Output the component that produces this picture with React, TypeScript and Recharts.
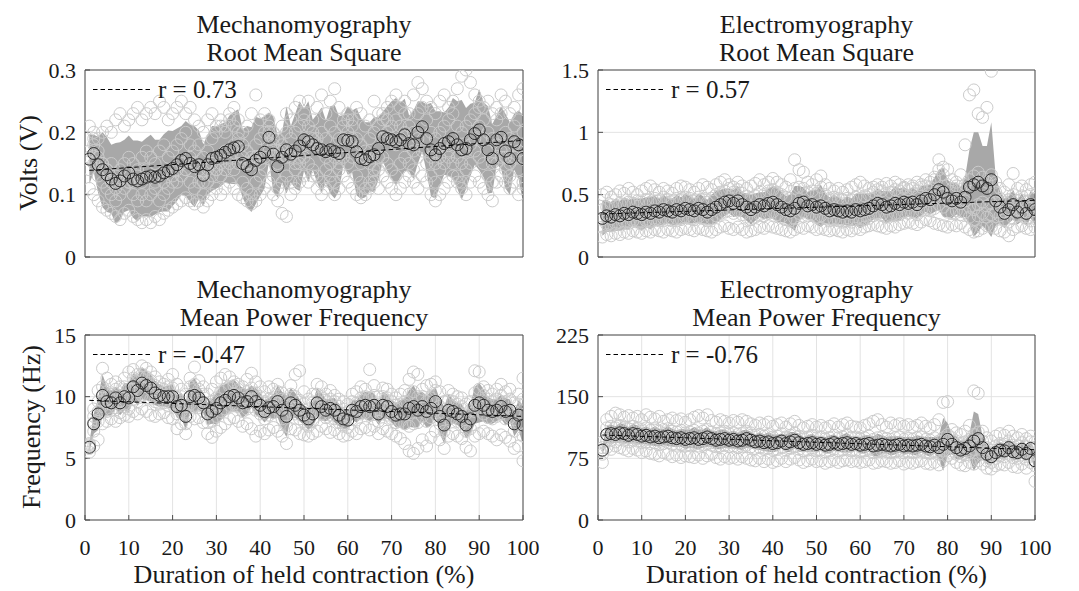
import React from "react";
import { ComposedChart, Area, Scatter, XAxis, YAxis, CartesianGrid } from "recharts";

// duration of held contraction (%), one sample per percent
const durationPct = [
  1, 2, 3, 4, 5, 6, 7, 8, 9, 10, 11, 12, 13, 14, 15, 16, 17, 18, 19, 20,
  21, 22, 23, 24, 25, 26, 27, 28, 29, 30, 31, 32, 33, 34, 35, 36, 37, 38, 39, 40,
  41, 42, 43, 44, 45, 46, 47, 48, 49, 50, 51, 52, 53, 54, 55, 56, 57, 58, 59, 60,
  61, 62, 63, 64, 65, 66, 67, 68, 69, 70, 71, 72, 73, 74, 75, 76, 77, 78, 79, 80,
  81, 82, 83, 84, 85, 86, 87, 88, 89, 90, 91, 92, 93, 94, 95, 96, 97, 98, 99, 100,
];
const xTicks = [0, 10, 20, 30, 40, 50, 60, 70, 80, 90, 100];
const fitX = [1, 100];

// ---- Mechanomyography RMS (V)
const mmgRmsTicks = [0, 0.1, 0.2, 0.3];
const mmgRmsFit = [0.139, 0.187];
const mmgRmsMean = [
  0.157, 0.166, 0.148, 0.14, 0.132, 0.125, 0.118, 0.122, 0.13, 0.135,
  0.125, 0.122, 0.125, 0.128, 0.13, 0.128, 0.13, 0.135, 0.138, 0.142,
  0.148, 0.155, 0.158, 0.15, 0.145, 0.148, 0.131, 0.148, 0.158, 0.16,
  0.163, 0.168, 0.172, 0.175, 0.177, 0.15, 0.145, 0.14, 0.155, 0.16,
  0.168, 0.192, 0.165, 0.145, 0.16, 0.172, 0.165, 0.17, 0.178, 0.188,
  0.185, 0.18, 0.174, 0.172, 0.169, 0.172, 0.169, 0.166, 0.188, 0.187,
  0.185, 0.169, 0.158, 0.156, 0.161, 0.164, 0.174, 0.193, 0.19, 0.188,
  0.185, 0.188, 0.196, 0.182, 0.18, 0.2, 0.209, 0.19, 0.172, 0.164,
  0.174, 0.182, 0.185, 0.19, 0.18, 0.172, 0.174, 0.188, 0.198, 0.204,
  0.188, 0.172, 0.158, 0.188, 0.192, 0.17, 0.158, 0.185, 0.18, 0.158,
];
const mmgRmsSd = [
  0.04, 0.03, 0.045, 0.06, 0.06, 0.055, 0.065, 0.062, 0.058, 0.06,
  0.062, 0.065, 0.06, 0.063, 0.066, 0.06, 0.058, 0.062, 0.065, 0.06,
  0.058, 0.055, 0.06, 0.062, 0.065, 0.055, 0.05, 0.048, 0.052, 0.05,
  0.05, 0.048, 0.055, 0.058, 0.06, 0.055, 0.065, 0.068, 0.07, 0.062,
  0.058, 0.04, 0.06, 0.05, 0.04, 0.07, 0.045, 0.06, 0.072, 0.05,
  0.065, 0.04, 0.055, 0.068, 0.05, 0.07, 0.075, 0.06, 0.04, 0.055,
  0.05, 0.07, 0.065, 0.06, 0.055, 0.06, 0.05, 0.04, 0.052, 0.062,
  0.07, 0.06, 0.058, 0.045, 0.055, 0.05, 0.04, 0.055, 0.075, 0.07,
  0.06, 0.05, 0.055, 0.065, 0.07, 0.08, 0.065, 0.058, 0.05, 0.065,
  0.06, 0.07, 0.055, 0.04, 0.05, 0.06, 0.058, 0.045, 0.055, 0.07,
];
const mmgRmsS1 = [
  0.21, 0.2, 0.19, 0.2, 0.21, 0.2, 0.22, 0.23, 0.21, 0.22,
  0.23, 0.24, 0.22, 0.23, 0.24, 0.23, 0.25, 0.24, 0.22, 0.23,
  0.24, 0.25, 0.23, 0.24, 0.22, 0.21, 0.2, 0.22, 0.23, 0.21,
  0.22, 0.21, 0.23, 0.24, 0.22, 0.2, 0.21, 0.23, 0.26, 0.22,
  0.23, 0.21, 0.2, 0.19, 0.21, 0.23, 0.22, 0.24, 0.25, 0.23,
  0.25, 0.22, 0.24, 0.26, 0.23, 0.25, 0.27, 0.24, 0.22, 0.23,
  0.22, 0.24, 0.23, 0.21, 0.22, 0.25, 0.23, 0.22, 0.24, 0.25,
  0.26, 0.24, 0.25, 0.23, 0.26, 0.28, 0.27, 0.25, 0.24, 0.23,
  0.25, 0.26, 0.24, 0.25, 0.27, 0.29, 0.3, 0.28, 0.26, 0.25,
  0.24, 0.25, 0.23, 0.24, 0.26, 0.25, 0.23, 0.24, 0.26, 0.27,
];
const mmgRmsS2 = [
  0.11, 0.1, 0.09, 0.08, 0.075, 0.07, 0.065, 0.06, 0.07, 0.075,
  0.065, 0.06, 0.055, 0.06, 0.055, 0.065, 0.06, 0.07, 0.075, 0.08,
  0.085, 0.09, 0.095, 0.09, 0.085, 0.09, 0.08, 0.09, 0.1, 0.11,
  0.1, 0.11, 0.12, 0.11, 0.1, 0.095, 0.09, 0.085, 0.09, 0.1,
  0.11, 0.12, 0.1, 0.09, 0.07, 0.065, 0.1, 0.11, 0.12, 0.13,
  0.12, 0.13, 0.11, 0.1, 0.11, 0.12, 0.1, 0.11, 0.13, 0.12,
  0.11, 0.1, 0.095, 0.1, 0.11, 0.12, 0.11, 0.13, 0.12, 0.11,
  0.1, 0.11, 0.12, 0.13, 0.12, 0.11, 0.13, 0.12, 0.1, 0.09,
  0.1, 0.11, 0.12, 0.13, 0.12, 0.11, 0.1, 0.12, 0.13, 0.12,
  0.11, 0.1, 0.09, 0.12, 0.13, 0.12, 0.11, 0.12, 0.1, 0.11,
];
const mmgRmsS3 = [
  0.17, 0.19, 0.16, 0.15, 0.14, 0.15, 0.13, 0.14, 0.15, 0.16,
  0.15, 0.14, 0.16, 0.17, 0.16, 0.15, 0.17, 0.18, 0.16, 0.17,
  0.18, 0.19, 0.2, 0.18, 0.17, 0.18, 0.16, 0.17, 0.19, 0.2,
  0.21, 0.2, 0.22, 0.21, 0.2, 0.18, 0.17, 0.16, 0.18, 0.19,
  0.2, 0.22, 0.19, 0.17, 0.18, 0.2, 0.19, 0.2, 0.21, 0.22,
  0.21, 0.2, 0.19, 0.2, 0.19, 0.21, 0.2, 0.19, 0.21, 0.22,
  0.21, 0.19, 0.18, 0.17, 0.19, 0.2, 0.21, 0.23, 0.22, 0.21,
  0.22, 0.21, 0.23, 0.21, 0.2, 0.23, 0.24, 0.22, 0.2, 0.19,
  0.2, 0.21, 0.22, 0.23, 0.21, 0.2, 0.21, 0.22, 0.23, 0.24,
  0.22, 0.2, 0.19, 0.22, 0.23, 0.2, 0.19, 0.21, 0.22, 0.2,
];
const mmgRmsS4 = [
  0.14, 0.15, 0.13, 0.12, 0.11, 0.1, 0.09, 0.1, 0.11, 0.12,
  0.1, 0.09, 0.1, 0.09, 0.1, 0.11, 0.09, 0.1, 0.11, 0.12,
  0.12, 0.13, 0.14, 0.12, 0.11, 0.12, 0.1, 0.12, 0.13, 0.14,
  0.13, 0.14, 0.15, 0.14, 0.15, 0.12, 0.11, 0.1, 0.12, 0.13,
  0.14, 0.17, 0.13, 0.11, 0.12, 0.13, 0.12, 0.14, 0.15, 0.16,
  0.15, 0.14, 0.13, 0.12, 0.14, 0.13, 0.12, 0.14, 0.16, 0.15,
  0.16, 0.13, 0.12, 0.11, 0.12, 0.13, 0.14, 0.16, 0.15, 0.14,
  0.13, 0.15, 0.16, 0.15, 0.14, 0.16, 0.17, 0.15, 0.13, 0.12,
  0.14, 0.15, 0.16, 0.15, 0.13, 0.12, 0.14, 0.15, 0.17, 0.16,
  0.15, 0.13, 0.12, 0.15, 0.16, 0.14, 0.13, 0.16, 0.14, 0.12,
];
const mmgRmsS5 = [
  0.16, 0.18, 0.17, 0.15, 0.14, 0.12, 0.11, 0.12, 0.13, 0.12,
  0.12, 0.13, 0.12, 0.14, 0.13, 0.12, 0.13, 0.12, 0.14, 0.13,
  0.14, 0.15, 0.14, 0.16, 0.15, 0.14, 0.12, 0.14, 0.15, 0.14,
  0.15, 0.17, 0.16, 0.18, 0.19, 0.16, 0.15, 0.15, 0.16, 0.15,
  0.16, 0.2, 0.18, 0.15, 0.17, 0.16, 0.16, 0.15, 0.16, 0.19,
  0.18, 0.19, 0.18, 0.17, 0.16, 0.15, 0.16, 0.15, 0.19, 0.2,
  0.19, 0.17, 0.15, 0.16, 0.15, 0.14, 0.16, 0.19, 0.2, 0.19,
  0.18, 0.19, 0.2, 0.18, 0.17, 0.19, 0.21, 0.19, 0.16, 0.15,
  0.16, 0.18, 0.17, 0.18, 0.16, 0.15, 0.17, 0.18, 0.19, 0.21,
  0.19, 0.17, 0.15, 0.18, 0.17, 0.16, 0.15, 0.18, 0.17, 0.16,
];

// ---- Electromyography RMS (V)
const emgRmsTicks = [0, 0.5, 1, 1.5];
const emgRmsFit = [0.345, 0.455];
const emgRmsMean = [
  0.31, 0.33, 0.32, 0.34, 0.33, 0.35, 0.34, 0.36, 0.35, 0.34,
  0.36, 0.35, 0.37, 0.36, 0.38, 0.37, 0.36, 0.38, 0.37, 0.39,
  0.38, 0.37, 0.39, 0.38, 0.36, 0.38, 0.4, 0.42, 0.44, 0.45,
  0.43, 0.45, 0.42, 0.4, 0.38, 0.4, 0.42, 0.41, 0.43, 0.44,
  0.42, 0.4, 0.38, 0.37, 0.39, 0.43, 0.44, 0.41, 0.42, 0.4,
  0.41, 0.39, 0.37, 0.38, 0.37, 0.36, 0.37, 0.36, 0.38, 0.37,
  0.38, 0.39, 0.41, 0.43, 0.42, 0.4, 0.41, 0.43, 0.42, 0.44,
  0.43, 0.44, 0.42, 0.45, 0.47, 0.46, 0.5, 0.54, 0.52, 0.47,
  0.45, 0.47, 0.44, 0.48, 0.56, 0.58, 0.6, 0.57, 0.55, 0.62,
  0.45, 0.4, 0.35, 0.38, 0.42, 0.36, 0.4, 0.35, 0.42, 0.38,
];
const emgRmsSd = [
  0.14, 0.13, 0.12, 0.13, 0.12, 0.13, 0.12, 0.11, 0.12, 0.13,
  0.12, 0.13, 0.12, 0.11, 0.12, 0.1, 0.11, 0.12, 0.11, 0.12,
  0.11, 0.1, 0.12, 0.11, 0.1, 0.12, 0.13, 0.12, 0.11, 0.1,
  0.11, 0.12, 0.1, 0.11, 0.12, 0.11, 0.1, 0.11, 0.12, 0.13,
  0.14, 0.12, 0.11, 0.13, 0.18, 0.14, 0.12, 0.11, 0.12, 0.14,
  0.17, 0.12, 0.11, 0.12, 0.11, 0.1, 0.12, 0.11, 0.13, 0.14,
  0.13, 0.12, 0.11, 0.12, 0.11, 0.13, 0.12, 0.14, 0.13, 0.12,
  0.11, 0.12, 0.11, 0.12, 0.11, 0.12, 0.14, 0.16, 0.2, 0.15,
  0.14, 0.13, 0.12, 0.16, 0.3, 0.42, 0.4, 0.32, 0.34, 0.46,
  0.2, 0.13, 0.12, 0.11, 0.12, 0.1, 0.11, 0.1, 0.11, 0.12,
];
const emgRmsS1 = [
  0.5, 0.52, 0.48, 0.5, 0.53, 0.51, 0.55, 0.52, 0.5, 0.53,
  0.55, 0.57, 0.54, 0.52, 0.55, 0.53, 0.51, 0.55, 0.57, 0.56,
  0.54, 0.52, 0.55, 0.58, 0.56, 0.54, 0.58, 0.6, 0.62, 0.58,
  0.56, 0.6, 0.57, 0.55, 0.57, 0.59, 0.62, 0.58, 0.6, 0.63,
  0.6, 0.58, 0.56, 0.62, 0.78, 0.7, 0.68, 0.6, 0.58, 0.62,
  0.65, 0.58, 0.55, 0.53, 0.55, 0.52, 0.54, 0.56, 0.58, 0.6,
  0.57, 0.55, 0.56, 0.58, 0.56, 0.59, 0.57, 0.6, 0.58, 0.56,
  0.58, 0.57, 0.6, 0.58, 0.62, 0.6, 0.64, 0.78, 0.72, 0.7,
  0.62, 0.6, 0.66, 0.9, 1.3, 1.34, 1.15, 1.12, 1.2, 1.49,
  0.6, 0.55, 0.52, 0.58, 0.67, 0.55, 0.57, 0.54, 0.58, 0.6,
];
const emgRmsS2 = [
  0.16, 0.18, 0.17, 0.19, 0.18, 0.2, 0.19, 0.21, 0.2, 0.19,
  0.21, 0.2, 0.22, 0.21, 0.2, 0.22, 0.21, 0.2, 0.22, 0.23,
  0.22, 0.21, 0.23, 0.22, 0.21, 0.2, 0.22, 0.24, 0.25, 0.23,
  0.22, 0.24, 0.22, 0.2, 0.21, 0.22, 0.24, 0.23, 0.25, 0.24,
  0.23, 0.22, 0.21, 0.2, 0.22, 0.24, 0.23, 0.25, 0.24, 0.22,
  0.23, 0.22, 0.21, 0.22, 0.21, 0.2, 0.22, 0.21, 0.23, 0.22,
  0.24, 0.25, 0.26, 0.25, 0.24, 0.23, 0.25, 0.24, 0.26, 0.27,
  0.28, 0.27, 0.26, 0.28, 0.3, 0.29, 0.27, 0.26, 0.25, 0.24,
  0.26, 0.25, 0.27, 0.24, 0.22, 0.2, 0.21, 0.23, 0.25, 0.24,
  0.23, 0.21, 0.2, 0.17, 0.22, 0.24, 0.25, 0.23, 0.22, 0.24,
];
const emgRmsS3 = [
  0.38, 0.4, 0.42, 0.41, 0.43, 0.42, 0.44, 0.43, 0.45, 0.44,
  0.46, 0.44, 0.47, 0.45, 0.48, 0.46, 0.45, 0.47, 0.46, 0.48,
  0.47, 0.45, 0.48, 0.46, 0.44, 0.47, 0.5, 0.52, 0.53, 0.55,
  0.52, 0.54, 0.51, 0.49, 0.47, 0.49, 0.52, 0.5, 0.53, 0.54,
  0.52, 0.5, 0.48, 0.47, 0.55, 0.56, 0.55, 0.52, 0.53, 0.51,
  0.56, 0.5, 0.47, 0.48, 0.47, 0.46, 0.47, 0.46, 0.48, 0.47,
  0.49, 0.5, 0.52, 0.54, 0.53, 0.51, 0.52, 0.54, 0.53, 0.55,
  0.54, 0.55, 0.53, 0.56, 0.57, 0.56, 0.62, 0.7, 0.66, 0.58,
  0.55, 0.57, 0.54, 0.58, 0.62, 0.65, 0.68, 0.64, 0.6, 0.66,
  0.52, 0.47, 0.44, 0.46, 0.5, 0.45, 0.49, 0.44, 0.5, 0.47,
];
const emgRmsS4 = [
  0.24, 0.26, 0.25, 0.27, 0.26, 0.28, 0.27, 0.29, 0.28, 0.27,
  0.29, 0.28, 0.3, 0.29, 0.31, 0.3, 0.29, 0.31, 0.3, 0.32,
  0.31, 0.3, 0.32, 0.31, 0.29, 0.31, 0.33, 0.35, 0.36, 0.37,
  0.35, 0.37, 0.34, 0.32, 0.3, 0.32, 0.34, 0.33, 0.35, 0.36,
  0.34, 0.32, 0.3, 0.29, 0.31, 0.35, 0.36, 0.33, 0.34, 0.32,
  0.33, 0.31, 0.29, 0.3, 0.29, 0.28, 0.29, 0.28, 0.3, 0.29,
  0.3, 0.31, 0.33, 0.35, 0.34, 0.32, 0.33, 0.35, 0.34, 0.36,
  0.35, 0.36, 0.34, 0.37, 0.38, 0.37, 0.39, 0.42, 0.4, 0.36,
  0.35, 0.37, 0.34, 0.36, 0.32, 0.3, 0.33, 0.35, 0.32, 0.34,
  0.36, 0.33, 0.3, 0.28, 0.31, 0.33, 0.35, 0.31, 0.29, 0.32,
];
const emgRmsS5 = [
  0.3, 0.32, 0.31, 0.33, 0.32, 0.34, 0.33, 0.35, 0.34, 0.33,
  0.35, 0.34, 0.36, 0.35, 0.37, 0.36, 0.35, 0.37, 0.36, 0.38,
  0.37, 0.36, 0.38, 0.37, 0.35, 0.37, 0.39, 0.41, 0.43, 0.44,
  0.42, 0.44, 0.41, 0.39, 0.37, 0.39, 0.41, 0.4, 0.42, 0.43,
  0.41, 0.39, 0.37, 0.36, 0.38, 0.42, 0.43, 0.4, 0.41, 0.39,
  0.4, 0.38, 0.36, 0.37, 0.36, 0.35, 0.36, 0.35, 0.37, 0.36,
  0.37, 0.38, 0.4, 0.42, 0.41, 0.39, 0.4, 0.42, 0.41, 0.43,
  0.42, 0.43, 0.41, 0.44, 0.46, 0.45, 0.48, 0.52, 0.5, 0.45,
  0.44, 0.46, 0.43, 0.45, 0.4, 0.38, 0.42, 0.44, 0.41, 0.43,
  0.44, 0.4, 0.36, 0.37, 0.4, 0.38, 0.41, 0.36, 0.39, 0.37,
];

// ---- Mechanomyography MPF (Hz)
const mmgMpfTicks = [0, 5, 10, 15];
const mmgMpfFit = [9.7, 8.4];
const mmgMpfMean = [
  5.9, 7.8, 8.6, 10.1, 9.6, 9.5, 9.9, 9.5, 10.0, 9.9,
  10.8, 10.5, 11.1, 10.9, 10.7, 10.3, 10.1, 10.0, 10.0, 10.0,
  9.2, 9.3, 8.4, 10.0, 10.1, 9.9, 9.5, 8.6, 8.8, 9.05,
  9.5, 9.7, 10.0, 10.1, 9.9, 9.5, 9.6, 10.0, 9.6, 9.3,
  8.8, 9.1, 9.2, 9.6, 8.9, 8.4, 9.5, 9.3, 8.9, 8.5,
  8.2, 8.6, 9.5, 9.2, 8.9, 9.05, 8.9, 8.5, 8.2, 8.1,
  8.9, 8.8, 9.2, 9.3, 9.2, 9.3, 8.6, 9.3, 9.2, 8.8,
  8.5, 8.6, 8.6, 9.05, 9.2, 8.9, 9.2, 8.8, 9.05, 9.6,
  8.4, 7.7, 8.9, 8.8, 8.6, 8.4, 7.7, 8.2, 9.3, 9.5,
  9.3, 8.9, 8.8, 8.9, 9.2, 8.8, 8.9, 7.8, 8.5, 7.7,
];
const mmgMpfSd = [
  0.4, 0.8, 1.3, 1.7, 1.2, 1.0, 0.9, 1.0, 1.1, 1.2,
  1.1, 1.2, 1.3, 1.2, 1.1, 1.0, 0.9, 0.8, 0.9, 1.0,
  0.9, 1.0, 1.1, 1.2, 1.4, 1.0, 0.8, 0.9, 1.0, 1.3,
  1.4, 1.3, 1.2, 1.3, 1.1, 1.2, 1.0, 0.9, 1.1, 1.0,
  0.9, 0.8, 1.0, 1.3, 1.5, 1.7, 1.2, 1.0, 0.9, 0.8,
  0.9, 1.0, 1.2, 1.1, 0.9, 0.8, 1.0, 0.9, 0.8, 0.7,
  0.8, 0.9, 1.0, 1.1, 1.2, 1.0, 0.9, 1.1, 1.0, 0.9,
  1.0, 1.1, 1.3, 1.5, 1.7, 1.4, 1.2, 1.3, 1.4, 1.2,
  1.4, 1.5, 1.3, 1.0, 0.9, 1.0, 1.1, 1.2, 1.5, 1.6,
  1.3, 1.1, 1.0, 0.9, 1.0, 1.1, 0.9, 1.0, 1.2, 1.6,
];
const mmgMpfS1 = [
  6.2, 9.0, 10.5, 12.3, 11.5, 11.0, 11.2, 10.8, 11.5, 12.0,
  12.2, 11.8, 12.5, 12.3, 12.0, 11.6, 11.2, 11.0, 11.4, 11.8,
  11.0, 10.6, 10.2, 11.5, 12.4, 11.3, 10.8, 10.2, 10.6, 11.2,
  11.5, 11.8, 11.6, 11.2, 11.0, 10.8, 11.4, 11.9, 11.2, 10.8,
  10.4, 10.8, 10.6, 11.0, 10.3, 9.8, 10.9, 11.8, 12.1, 10.4,
  9.8, 10.2, 11.0, 10.8, 10.2, 10.5, 10.1, 9.8, 9.6, 9.4,
  10.2, 10.4, 10.8, 10.6, 12.2, 10.9, 10.0, 10.7, 10.6, 10.2,
  9.9, 10.2, 10.5, 11.4, 12.0, 11.8, 10.6, 10.9, 11.0, 11.2,
  10.4, 9.6, 10.5, 10.2, 10.0, 9.9, 9.4, 9.6, 12.1, 12.0,
  10.8, 10.5, 10.2, 10.6, 11.0, 10.4, 10.6, 9.5, 10.2, 11.5,
];
const mmgMpfS2 = [
  5.5, 6.0, 6.5, 7.8, 8.0, 8.2, 8.0, 8.3, 8.5, 8.4,
  8.8, 8.6, 9.0, 8.8, 8.5, 8.4, 8.6, 8.7, 8.3, 8.2,
  7.4, 7.8, 7.0, 8.4, 8.2, 8.3, 7.9, 7.0, 6.7, 7.2,
  7.5, 7.8, 8.2, 8.3, 8.0, 7.6, 7.8, 7.4, 6.8, 7.2,
  7.0, 7.3, 7.5, 7.2, 6.8, 6.2, 7.4, 7.3, 7.0, 6.9,
  6.8, 7.0, 7.2, 7.6, 7.4, 7.1, 7.3, 7.0, 6.8, 6.9,
  7.2, 7.0, 7.4, 7.5, 7.3, 7.6, 7.0, 7.4, 7.2, 7.0,
  6.8, 6.6, 6.2, 5.6, 5.4, 5.8, 6.5, 6.0, 6.7, 7.2,
  6.5, 5.8, 6.8, 7.0, 6.8, 6.6, 5.9, 5.6, 6.8, 7.0,
  7.2, 7.0, 6.8, 6.5, 6.9, 6.7, 6.4, 5.8, 6.0, 4.8,
];
const mmgMpfS3 = [
  6.0, 8.4, 9.6, 10.8, 10.4, 10.2, 10.6, 10.1, 10.8, 10.6,
  11.5, 11.2, 11.8, 11.6, 11.3, 10.9, 10.7, 10.6, 10.8, 10.7,
  9.9, 10.0, 9.2, 10.8, 11.0, 10.6, 10.2, 9.4, 9.6, 9.9,
  10.4, 10.6, 10.8, 10.9, 10.6, 10.2, 10.4, 10.7, 10.3, 10.0,
  9.6, 9.8, 9.9, 10.4, 9.8, 9.2, 10.2, 10.0, 9.7, 9.4,
  9.0, 9.5, 10.2, 10.0, 9.7, 9.8, 9.6, 9.2, 9.0, 8.8,
  9.6, 9.5, 9.9, 10.0, 9.9, 10.1, 9.4, 10.0, 9.9, 9.6,
  9.3, 9.4, 9.6, 10.2, 10.4, 10.0, 10.0, 9.6, 9.9, 10.5,
  9.2, 8.6, 9.7, 9.6, 9.4, 9.2, 8.6, 8.9, 10.3, 10.6,
  10.1, 9.8, 9.6, 9.8, 10.1, 9.6, 9.8, 8.8, 9.4, 9.8,
];
const mmgMpfS4 = [
  5.8, 7.2, 8.0, 9.2, 8.8, 8.9, 9.1, 8.7, 9.2, 9.0,
  9.8, 9.6, 10.1, 9.9, 9.8, 9.6, 9.4, 9.5, 9.3, 9.4,
  8.6, 8.8, 7.8, 9.4, 9.3, 9.1, 8.8, 7.9, 8.0, 8.4,
  8.8, 9.0, 9.3, 9.4, 9.2, 8.8, 9.0, 9.2, 8.9, 8.6,
  8.2, 8.5, 8.7, 9.0, 8.2, 7.6, 8.8, 8.6, 8.2, 8.0,
  7.6, 8.0, 8.8, 8.6, 8.3, 8.5, 8.2, 7.9, 7.6, 7.5,
  8.2, 8.1, 8.6, 8.7, 8.5, 8.8, 8.0, 8.6, 8.5, 8.2,
  7.9, 8.0, 7.8, 7.6, 7.8, 7.9, 8.4, 8.0, 8.3, 8.9,
  7.8, 7.2, 8.2, 8.3, 8.0, 7.8, 7.2, 7.4, 8.8, 9.0,
  8.6, 8.3, 8.2, 8.4, 8.6, 8.2, 8.3, 7.2, 7.8, 6.8,
];
const mmgMpfS5 = [
  6.1, 7.9, 8.8, 10.0, 9.5, 9.4, 9.9, 9.6, 10.0, 9.8,
  10.6, 10.4, 11.0, 10.8, 10.6, 10.2, 10.0, 10.1, 9.9, 10.0,
  9.2, 9.4, 8.6, 10.0, 10.2, 9.8, 9.4, 8.6, 8.8, 9.1,
  9.6, 9.8, 10.0, 10.2, 9.9, 9.5, 9.7, 10.0, 9.6, 9.2,
  8.9, 9.1, 9.3, 9.6, 8.9, 8.4, 9.5, 9.3, 8.9, 8.6,
  8.2, 8.7, 9.5, 9.2, 8.9, 9.1, 8.9, 8.5, 8.2, 8.1,
  8.9, 8.8, 9.2, 9.3, 9.2, 9.4, 8.6, 9.3, 9.2, 8.9,
  8.5, 8.6, 8.6, 9.0, 9.2, 8.9, 9.2, 8.8, 9.0, 9.6,
  8.4, 7.7, 8.9, 8.8, 8.6, 8.4, 7.7, 8.2, 9.3, 9.5,
  9.3, 8.9, 8.8, 8.9, 9.2, 8.8, 8.9, 7.8, 8.5, 7.7,
];

// ---- Electromyography MPF (Hz)
const emgMpfTicks = [0, 75, 150, 225];
const emgMpfFit = [103.4, 85.5];
const emgMpfMean = [
  85, 104, 105, 104, 106, 105, 103, 105, 104, 102,
  103, 101, 102, 100, 101, 102, 100, 99, 100, 98,
  99, 100, 98, 99, 101, 99, 97, 98, 99, 97,
  98, 96, 97, 99, 97, 95, 96, 94, 95, 93,
  94, 96, 93, 95, 97, 94, 92, 93, 94, 92,
  93, 91, 92, 94, 92, 93, 94, 92, 93, 91,
  92, 93, 90, 91, 92, 91, 90, 91, 92, 90,
  91, 90, 91, 92, 90, 89, 91, 88, 92, 98,
  92, 88, 85, 87, 90, 96, 99, 88, 80, 77,
  82, 85, 84, 88, 83, 82, 86, 81, 87, 72,
];
const emgMpfSd = [
  5, 10, 11, 10, 12, 11, 10, 12, 11, 10,
  11, 10, 12, 11, 10, 12, 11, 10, 11, 12,
  11, 13, 12, 11, 12, 10, 11, 12, 11, 10,
  11, 10, 12, 11, 10, 9, 11, 10, 12, 11,
  10, 9, 11, 12, 10, 11, 9, 10, 11, 10,
  9, 10, 11, 10, 9, 11, 12, 10, 9, 10,
  11, 10, 12, 14, 11, 10, 12, 11, 10, 11,
  10, 11, 12, 10, 11, 12, 10, 14, 32, 20,
  12, 14, 11, 10, 15, 36, 30, 14, 12, 10,
  11, 10, 9, 11, 10, 9, 11, 10, 9, 12,
];
const emgMpfS1 = [
  95, 122, 126, 130, 128, 125, 127, 124, 126, 122,
  128, 125, 123, 126, 120, 122, 124, 121, 123, 119,
  122, 125, 127, 124, 128, 121, 119, 122, 120, 118,
  121, 119, 122, 120, 117, 115, 118, 116, 119, 114,
  116, 118, 113, 117, 120, 115, 112, 114, 116, 113,
  115, 112, 114, 117, 113, 116, 118, 114, 113, 112,
  115, 117, 120, 122, 116, 113, 118, 115, 117, 114,
  116, 113, 115, 118, 114, 112, 116, 122, 143, 144,
  110, 106, 104, 108, 115, 157, 154, 108, 100, 96,
  102, 105, 103, 108, 102, 100, 104, 99, 102, 95,
];
const emgMpfS2 = [
  70, 88, 86, 90, 88, 86, 84, 87, 85, 82,
  84, 81, 80, 78, 82, 80, 77, 79, 76, 78,
  77, 76, 79, 75, 78, 80, 76, 74, 77, 75,
  76, 74, 77, 75, 73, 72, 75, 71, 74, 70,
  72, 75, 71, 74, 76, 73, 70, 72, 74, 71,
  72, 69, 71, 73, 70, 72, 73, 71, 72, 70,
  71, 73, 69, 70, 72, 71, 69, 70, 72, 68,
  70, 69, 71, 72, 69, 68, 70, 67, 72, 78,
  75, 70, 67, 66, 70, 68, 72, 68, 63, 62,
  66, 68, 67, 70, 65, 64, 68, 63, 70, 47,
];
const emgMpfS3 = [
  88, 112, 114, 112, 115, 113, 111, 114, 112, 110,
  112, 109, 111, 108, 110, 111, 108, 107, 109, 106,
  107, 109, 106, 108, 110, 107, 105, 106, 108, 105,
  106, 104, 105, 108, 106, 103, 104, 102, 104, 101,
  102, 105, 101, 103, 106, 102, 100, 101, 103, 100,
  101, 99, 100, 103, 100, 101, 103, 100, 101, 99,
  100, 102, 98, 100, 101, 99, 98, 100, 101, 98,
  99, 98, 100, 101, 98, 97, 100, 96, 100, 104,
  100, 96, 93, 95, 98, 104, 107, 96, 88, 85,
  90, 93, 92, 96, 91, 90, 94, 89, 95, 80,
];
const emgMpfS4 = [
  80, 96, 97, 95, 98, 97, 95, 97, 96, 94,
  95, 93, 94, 92, 93, 94, 92, 91, 92, 90,
  91, 92, 90, 91, 93, 91, 89, 90, 91, 89,
  90, 88, 89, 91, 89, 87, 88, 86, 87, 85,
  86, 88, 85, 87, 89, 86, 84, 85, 86, 84,
  85, 83, 84, 86, 84, 85, 86, 84, 85, 83,
  84, 85, 82, 83, 84, 83, 82, 83, 84, 82,
  83, 82, 83, 84, 82, 81, 83, 80, 84, 90,
  84, 80, 77, 79, 82, 86, 90, 80, 72, 70,
  75, 78, 77, 80, 76, 75, 79, 74, 80, 66,
];
const emgMpfS5 = [
  84, 103, 104, 103, 106, 104, 102, 104, 103, 101,
  102, 100, 101, 99, 100, 101, 99, 98, 99, 97,
  98, 99, 97, 98, 100, 98, 96, 97, 98, 96,
  97, 95, 96, 98, 96, 94, 95, 93, 94, 92,
  93, 95, 92, 94, 96, 93, 91, 92, 93, 91,
  92, 90, 91, 93, 91, 92, 93, 91, 92, 90,
  91, 92, 89, 90, 91, 90, 89, 90, 91, 89,
  90, 89, 90, 91, 89, 88, 90, 87, 91, 97,
  91, 87, 84, 86, 89, 95, 98, 87, 79, 76,
  81, 84, 83, 87, 82, 81, 85, 80, 86, 71,
];

const FONT = "Liberation Serif, Times New Roman, Times, DejaVu Serif, serif";
const TEXT = "#1a1a1a";
const AXIS = "#4d4d4d";
// space around each plot box inside its chart, so edge tick labels are not cut
const PAD_TOP = 20;
const PAD_RIGHT = 26;

type PanelDef = {
  title: string[];
  mean: number[];
  sd: number[];
  subjects: number[][];
  fit: number[];
  label: string;
  yTicks: number[];
  left: number;
  top: number;
  w: number;
  h: number;
  showX: boolean;
};

const panels: PanelDef[] = [
  {
    title: ["Mechanomyography", "Root Mean Square"],
    mean: mmgRmsMean, sd: mmgRmsSd,
    subjects: [mmgRmsS1, mmgRmsS2, mmgRmsS3, mmgRmsS4, mmgRmsS5],
    fit: mmgRmsFit, label: "r = 0.73", yTicks: mmgRmsTicks,
    left: 85, top: 70, w: 438, h: 187, showX: false,
  },
  {
    title: ["Electromyography", "Root Mean Square"],
    mean: emgRmsMean, sd: emgRmsSd,
    subjects: [emgRmsS1, emgRmsS2, emgRmsS3, emgRmsS4, emgRmsS5],
    fit: emgRmsFit, label: "r = 0.57", yTicks: emgRmsTicks,
    left: 598, top: 70, w: 437, h: 187, showX: false,
  },
  {
    title: ["Mechanomyography", "Mean Power Frequency"],
    mean: mmgMpfMean, sd: mmgMpfSd,
    subjects: [mmgMpfS1, mmgMpfS2, mmgMpfS3, mmgMpfS4, mmgMpfS5],
    fit: mmgMpfFit, label: "r = -0.47", yTicks: mmgMpfTicks,
    left: 85, top: 335, w: 438, h: 185, showX: true,
  },
  {
    title: ["Electromyography", "Mean Power Frequency"],
    mean: emgMpfMean, sd: emgMpfSd,
    subjects: [emgMpfS1, emgMpfS2, emgMpfS3, emgMpfS4, emgMpfS5],
    fit: emgMpfFit, label: "r = -0.76", yTicks: emgMpfTicks,
    left: 598, top: 335, w: 437, h: 185, showX: true,
  },
];

const grayRing = (p: any) => (
  <circle cx={p.cx} cy={p.cy} r={6} fill="none" stroke="#cbcbcb" strokeWidth={1} />
);
const blackRing = (p: any) => (
  <circle cx={p.cx} cy={p.cy} r={6} fill="none" stroke="#2b2b2b" strokeWidth={1} />
);
const noShape = () => <g />;

const Panel = ({ p }: { p: PanelDef }) => {
  const yMax = p.yTicks[p.yTicks.length - 1];
  const rows = durationPct.map((x, i) => ({
    x,
    band: [Math.max(0, p.mean[i] - p.sd[i]), p.mean[i] + p.sd[i]],
  }));
  const meanPts = durationPct.map((x, i) => ({ x, y: p.mean[i] }));
  const subjPts = p.subjects.flatMap((s) => s.map((v, i) => ({ x: durationPct[i], y: v })));
  const fitPts = fitX.map((x, i) => ({ x, y: p.fit[i] }));
  const axisH = p.showX ? 50 : 20;
  const tickStyle = { fontFamily: FONT, fontSize: 22, fill: TEXT };

  return (
    <div style={{ position: "absolute", left: p.left - 80, top: p.top - PAD_TOP }}>
      <ComposedChart
        width={80 + p.w + PAD_RIGHT}
        height={PAD_TOP + p.h + axisH}
        data={rows}
        margin={{ top: PAD_TOP - 1, right: PAD_RIGHT - 1, bottom: 0, left: 0 }}
        style={{ fontFamily: FONT }}
      >
        <CartesianGrid stroke="#e3e3e3" />
        <XAxis
          dataKey="x"
          type="number"
          domain={[0, 100]}
          ticks={xTicks}
          interval={0}
          height={axisH}
          stroke={AXIS}
          tickSize={-5}
          tickMargin={24}
          tick={p.showX ? tickStyle : false}
          allowDataOverflow
        />
        <XAxis
          xAxisId="top"
          orientation="top"
          type="number"
          domain={[0, 100]}
          ticks={xTicks}
          interval={0}
          height={1}
          stroke={AXIS}
          tickSize={-5}
          tick={false}
        />
        <YAxis
          dataKey="y"
          type="number"
          domain={[0, yMax]}
          ticks={p.yTicks}
          interval={0}
          width={80}
          stroke={AXIS}
          tickSize={-5}
          tickMargin={14}
          tick={tickStyle}
          allowDataOverflow
        />
        <YAxis
          yAxisId="right"
          orientation="right"
          type="number"
          domain={[0, yMax]}
          ticks={p.yTicks}
          interval={0}
          width={1}
          stroke={AXIS}
          tickSize={-5}
          tick={false}
        />
        <Area
          dataKey="band"
          type="linear"
          stroke="none"
          fill="#a8a8a8"
          fillOpacity={1}
          isAnimationActive={false}
        />
        <Scatter data={subjPts} shape={grayRing} isAnimationActive={false} />
        <Scatter data={meanPts} shape={blackRing} isAnimationActive={false} />
        <Scatter
          data={fitPts}
          shape={noShape}
          line={{ stroke: "#000", strokeWidth: 1, strokeDasharray: "4.5 3" }}
          lineType="joint"
          isAnimationActive={false}
        />
      </ComposedChart>
    </div>
  );
};

export default function App() {
  return (
    <div
      style={{
        position: "absolute",
        left: 0,
        top: 0,
        width: 1079,
        height: 591,
        background: "#fff",
        fontFamily: FONT,
      }}
    >
      {panels.map((p, i) => (
        <Panel key={i} p={p} />
      ))}
      <svg
        width={1079}
        height={591}
        style={{ position: "absolute", left: 0, top: 0, pointerEvents: "none", fontFamily: FONT }}
        fill={TEXT}
      >
        {panels.map((p, i) => {
          const cx = p.left + p.w / 2;
          const titleY = p.top - 37;
          return (
            <g key={i}>
              <text x={cx} y={titleY} fontSize={26} textAnchor="middle">{p.title[0]}</text>
              <text x={cx} y={titleY + 28} fontSize={26} textAnchor="middle">{p.title[1]}</text>
              <line
                x1={p.left + 8}
                x2={p.left + 68}
                y1={p.top + 19.5}
                y2={p.top + 19.5}
                stroke="#000"
                strokeWidth={1}
                strokeDasharray="4.5 3"
              />
              <text x={p.left + 73} y={p.top + 28} fontSize={25}>{p.label}</text>
              {p.showX && (
                <text x={cx} y={583} fontSize={26} textAnchor="middle">
                  Duration of held contraction (%)
                </text>
              )}
            </g>
          );
        })}
        <text transform="translate(37,163) rotate(-90)" fontSize={26} textAnchor="middle">Volts (V)</text>
        <text transform="translate(40,427) rotate(-90)" fontSize={26} textAnchor="middle">Frequency (Hz)</text>
      </svg>
    </div>
  );
}
